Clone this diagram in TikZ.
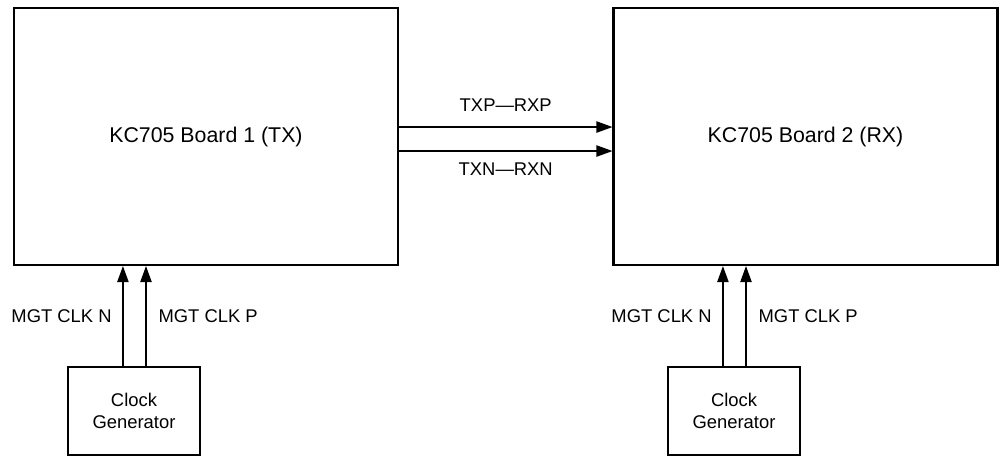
\documentclass[tikz,border=0pt]{standalone}
\usepackage{fontspec}
\setmainfont{Liberation Sans}
\usepackage{tikz}
\usetikzlibrary{
	arrows.meta,
	positioning,
	calc
}
\tikzset{
  % arrow
	cstsig/.style     ={-{Triangle[length=12pt,width=8.5pt]}, line width=0.9pt},
  % node
	cstboard/.style   ={draw=black,line width=1.6pt,minimum width=288pt,minimum height=192.75pt,
	                    font=\fontsize{16}{19}\selectfont},
	cstclk/.style     ={draw=black,line width=1.6pt,minimum width=99pt,minimum height=66pt,align=center,
	                    font=\fontsize{13.8}{16}\selectfont},
	cstlab/.style     ={font=\fontsize{13.8}{16}\selectfont,inner sep=0pt}
}
\begin{document}
\begin{tikzpicture}[x=0.75pt,y=-0.75pt]
	\useasboundingbox (0,0) rectangle (1000,457);
	% boards
	\node[cstboard] (brd1) at (206,136.5) {KC705 Board 1 (TX)};
	\node[cstboard] (brd2) at (805.5,136.5) {KC705 Board 2 (RX)};
	% clock generators
	\node[cstclk] (clk1) at (134,411) {Clock\\Generator};
	\node[cstclk] (clk2) at (734,411) {Clock\\Generator};
	% serial lanes
	\draw[cstsig] ([yshift=7.1pt]brd1.east) -- ([yshift=7.1pt]brd1.east -| brd2.west)
		node[cstlab,midway,above=11pt] (txp) {TXP—RXP};
	\draw[cstsig] ([yshift=-10.9pt]brd1.east) -- ([yshift=-10.9pt]brd1.east -| brd2.west)
		node[cstlab,midway,below=8.5pt] (txn) {TXN—RXN};
	% clocks
	\foreach \c/\b in {clk1/brd1,clk2/brd2}{
		\draw[cstsig] ([xshift=-8.3pt]\c.north) -- ([xshift=-8.3pt]\c.north |- \b.south)
			node[cstlab,midway,left=8pt] {MGT CLK N};
		\draw[cstsig] ([xshift=9pt]\c.north) -- ([xshift=9pt]\c.north |- \b.south)
			node[cstlab,midway,right=9pt] {MGT CLK P};
	}
\end{tikzpicture}
\end{document}
